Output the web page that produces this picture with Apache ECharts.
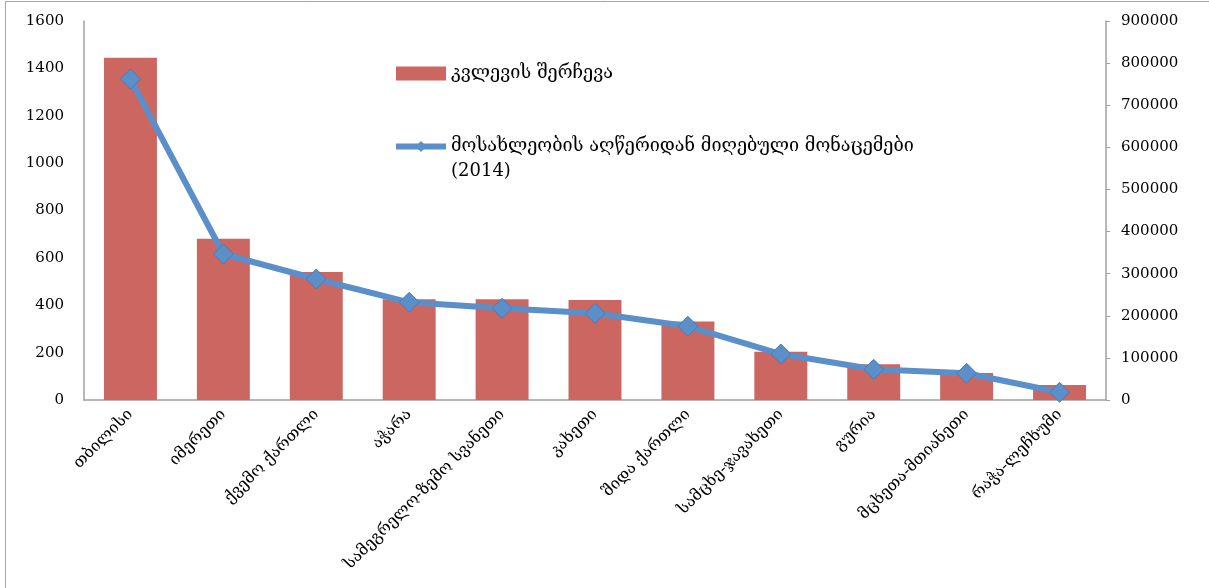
<!DOCTYPE html>
<html>
<head>
<meta charset="utf-8">
<script src="https://cdn.jsdelivr.net/npm/echarts@6/dist/echarts.min.js"></script>
<style>
  html, body { margin: 0; padding: 0; background: #fff; }
  #chart { width: 1209px; height: 588px; }
</style>
</head>
<body>
<div id="chart"></div>
<script>
// Regions of Georgia
const regions = [
  'თბილისი', 'იმერეთი', 'ქვემო ქართლი', 'აჭარა', 'სამეგრელო-ზემო სვანეთი',
  'კახეთი', 'შიდა ქართლი', 'სამცხე-ჯავახეთი', 'გურია', 'მცხეთა-მთიანეთი', 'რაჭა-ლეჩხუმი'
];
// Survey sample size per region (left axis)
const sampleSize = [1445, 681, 540, 425, 425, 422, 331, 204, 151, 114, 63];
// Population from the 2014 census (right axis)
const censusPopulation = [762300, 346700, 287300, 232000, 217700, 205900, 175000, 109200, 72900, 63400, 18300];

const sampleName = 'კვლევის შერჩევა';
const censusName = 'მოსახლეობის აღწერიდან მიღებული მონაცემები';
const censusYear = '(2014)';

const serif = '"DejaVu Serif", "Liberation Serif", serif';
const axisGrey = '#a0a0a0';
const lineBlue = '#5a8fca';

const chart = echarts.init(document.getElementById('chart'));
chart.setOption({
  backgroundColor: '#ffffff',
  animation: false,
  textStyle: { fontFamily: serif, color: '#000' },
  grid: { left: 84, right: 103, top: 21, bottom: 188 },
  legend: {
    orient: 'vertical',
    left: 388,
    top: 56,
    itemGap: 23,
    itemWidth: 50,
    itemHeight: 14,
    itemStyle: { borderWidth: 0 },
    textStyle: { fontFamily: serif, fontSize: 18, color: '#000', lineHeight: 25 },
    formatter: function (name) {
      return name === censusName ? '{t|' + name + '}\n{t|' + censusYear + '}' : name;
    },
    data: [
      { name: sampleName, icon: 'rect' },
      {
        name: censusName,
        lineStyle: { width: 6, color: lineBlue },
        textStyle: { rich: { t: { fontFamily: serif, fontSize: 18, lineHeight: 25, color: '#000' } }, padding: [25, 0, 0, 0] }
      }
    ]
  },
  graphic: [
    {
      type: 'rect',
      shape: { x: 5.5, y: 1.5, width: 1400, height: 700 },
      style: { fill: null, stroke: '#a6a6a6', lineWidth: 1 },
      silent: true
    }
  ],
  xAxis: {
    type: 'category',
    data: regions,
    axisLine: { lineStyle: { color: axisGrey, width: 1.5 } },
    axisTick: { show: false },
    axisLabel: {
      rotate: 45,
      interval: 0,
      margin: 12,
      fontFamily: serif,
      fontSize: 16,
      color: '#000'
    }
  },
  yAxis: [
    {
      type: 'value',
      min: 0,
      max: 1600,
      interval: 200,
      position: 'left',
      axisLine: { show: true, lineStyle: { color: axisGrey, width: 1.5 } },
      axisTick: { show: false },
      splitLine: { show: false },
      axisLabel: { fontFamily: serif, fontSize: 15, color: '#000', margin: 20, formatter: v => String(v) }
    },
    {
      type: 'value',
      min: 0,
      max: 900000,
      interval: 100000,
      position: 'right',
      axisLine: { show: true, lineStyle: { color: axisGrey, width: 1.5 } },
      axisTick: { show: true, length: 4, lineStyle: { color: axisGrey } },
      splitLine: { show: false },
      axisLabel: { fontFamily: serif, fontSize: 15, color: '#000', margin: 15, formatter: v => String(v) }
    }
  ],
  series: [
    {
      name: sampleName,
      type: 'bar',
      yAxisIndex: 0,
      data: sampleSize,
      barCategoryGap: '43%',
      itemStyle: { color: '#cc6660' }
    },
    {
      name: censusName,
      type: 'line',
      yAxisIndex: 1,
      data: censusPopulation,
      symbol: 'diamond',
      symbolSize: 20,
      lineStyle: { color: lineBlue, width: 6 },
      itemStyle: { color: lineBlue, borderColor: '#4a7db5', borderWidth: 1 }
    }
  ]
});
</script>
</body>
</html>
